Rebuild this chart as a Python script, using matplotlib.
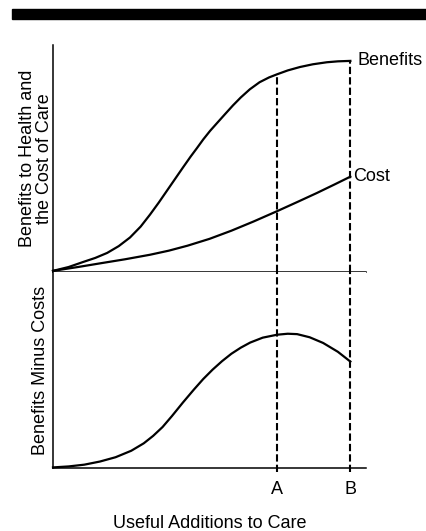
import matplotlib.pyplot as plt
from matplotlib.patches import Rectangle

plt.rcParams['font.family'] = ['Liberation Sans', 'DejaVu Sans']

# x runs 0..100 along the axis ("useful additions to care")
point_a = 71.6
point_b = 95.0

benefit_x = [0, 5, 9.6, 13.5, 17.3, 21, 24.6, 28, 31, 33.8, 36.4, 39, 41.5, 44, 46, 48, 50.2,
             52.4, 55, 57.5, 60, 62.9, 66, 69, 71.6, 75, 78.9, 83, 87.5, 91, 95]
benefit_y = [0.5, 2.2, 4.4, 6.2, 8.4, 11.4, 15.2, 20.0, 25.3, 30.6, 35.8, 41.0, 46.0, 50.9, 54.6, 58.4, 62.2,
             65.6, 69.6, 73.4, 76.9, 80.5, 83.6, 85.7, 87.1, 88.8, 90.3, 91.5, 92.4, 92.8, 93.0]

cost_x = [0, 8, 15, 23, 31, 37, 43, 50, 57, 64, 71.6, 78, 84.3, 90, 95]
cost_y = [0.5, 2.2, 3.8, 5.6, 7.6, 9.4, 11.6, 14.6, 18.2, 22.2, 26.8, 30.8, 34.8, 38.6, 42.0]

net_x = [0, 5, 10, 15, 20, 25, 29, 32, 35, 38, 41.5, 45, 48, 51, 54, 57, 60, 63, 67, 71.6,
         75, 78, 82, 86.3, 91, 95]
net_y = [0.3, 0.8, 1.7, 3.3, 5.5, 8.8, 12.6, 16.4, 20.9, 26.5, 33.4, 40.0, 45.4, 50.2, 54.5, 58.3, 61.4, 64.0,
         66.5, 68.0, 68.5, 68.3, 66.7, 63.8, 59.3, 54.3]

tick_labels = ['A', 'B']

fig = plt.figure(figsize=(4.26, 5.31), dpi=100)
W, H = 426, 531


def px_box(left, top, right, bottom):
    return [left / W, 1 - bottom / H, (right - left) / W, (bottom - top) / H]


# heavy black rule across the top
fig.patches.append(Rectangle((12 / W, 1 - 19 / H), (W - 12) / W, 10 / H,
                             transform=fig.transFigure, color='black'))

ax1 = fig.add_axes(px_box(53, 45, 366, 272))
ax2 = fig.add_axes(px_box(53, 272, 366, 468))

for ax in (ax1, ax2):
    ax.set_xlim(0, 100)
    ax.set_ylim(0, 100)
    for s in ('top', 'right'):
        ax.spines[s].set_visible(False)
    for s in ('left', 'bottom'):
        ax.spines[s].set_linewidth(1.1)
    ax.set_yticks([])

ax1.set_xticks([])

lw = 1.6
dash = (0, (3.5, 1.5))
ax1.plot(benefit_x, benefit_y, color='black', lw=lw, clip_on=False, solid_joinstyle='round')
ax1.plot(cost_x, cost_y, color='black', lw=lw, clip_on=False, solid_joinstyle='round')
ax1.plot([point_a, point_a], [0, benefit_y[benefit_x.index(point_a)]], color='black', lw=1.5, ls=dash)
ax1.plot([point_b, point_b], [0, benefit_y[-1]], color='black', lw=1.5, ls=dash)
ax1.text(point_b + 2.3, benefit_y[-1], 'Benefits', fontsize=13, va='center', ha='left')
ax1.text(point_b + 0.9, cost_y[-1], 'Cost', fontsize=13, va='center', ha='left')
ax1.set_ylabel('Benefits to Health and\nthe Cost of Care', fontsize=13, labelpad=0, linespacing=1.0)

ax2.plot(net_x, net_y, color='black', lw=lw, clip_on=False, solid_joinstyle='round')
ax2.plot([point_a, point_a], [-2, 100], color='black', lw=1.5, ls=dash, clip_on=False)
ax2.plot([point_b, point_b], [-2, 100], color='black', lw=1.5, ls=dash, clip_on=False)
ax2.set_xticks([point_a, point_b])
ax2.set_xticklabels(tick_labels, fontsize=13)
ax2.tick_params(axis='x', length=0, pad=9.5)
ax2.set_ylabel('Benefits Minus Costs', fontsize=13, labelpad=3)
ax2.set_xlabel('Useful Additions to Care', fontsize=13, labelpad=12)

fig.savefig('out.png', dpi=100)
